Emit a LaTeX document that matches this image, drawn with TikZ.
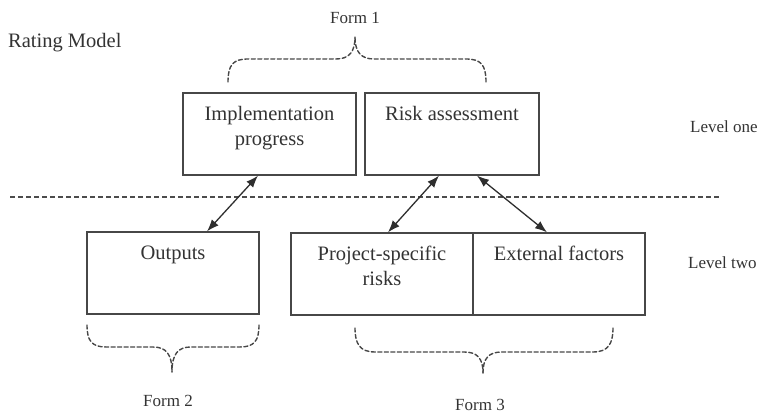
\documentclass[tikz,border=0pt]{standalone}
\usepackage{fontspec}
\setmainfont{Liberation Serif}
\usetikzlibrary{arrows.meta,calc}
\begin{document}
\begin{tikzpicture}[x=1pt,y=1pt,
  box/.style={draw=black!72,line width=1.3pt,minimum width=#1,minimum height=82pt,inner sep=0pt},
  boxtext/.style={text=black!80,font=\fontsize{20.5}{25}\selectfont,align=center,inner sep=0pt,anchor=north},
  lab/.style={text=black!80,font=\fontsize{17}{20}\selectfont,inner sep=0pt},
  dsh/.style={draw=black!70,line width=1.3pt,dash pattern=on 5pt off 3pt},
  bidir/.style={draw=black!82,line width=1.3pt,{Latex[length=12pt,width=9pt]}-{Latex[length=12pt,width=9pt]}},
  brc/.style={draw=black!72,line width=1.4pt,dash pattern=on 4pt off 2.5pt,line cap=round}]
\useasboundingbox (0,0) rectangle (761,414);
% boxes
\node[box=173pt] (impl) at (269.5,280) {};
\node[box=174pt] (risk) at (452,280) {};
\node[box=172pt] (outp) at (173,141) {};
\node[box=182pt] (proj) at (382,140) {};
\node[box=172pt] (ext) at (559,140) {};
% box texts
\node[boxtext] (impltxt) at ([yshift=-14pt]impl.north) {Implementation\\progress};
\node[boxtext] (risktxt) at ([yshift=-14pt]risk.north) {Risk assessment};
\node[boxtext] (outptxt) at ([yshift=-14pt]outp.north) {Outputs};
\node[boxtext] (projtxt) at ([yshift=-14pt]proj.north) {Project-specific\\risks};
\node[boxtext] (exttxt) at ([yshift=-14pt]ext.north) {External factors};
% level separator
\coordinate (sepL) at (10,217);
\coordinate (sepR) at (720,217);
\draw[dsh] (sepL) -- (sepR);
% arrows
\draw[bidir] ([xshift=-11.5pt]impl.south) -- ([xshift=34pt]outp.north);
\draw[bidir] ([xshift=-13pt]risk.south) -- ([xshift=6pt]proj.north);
\draw[bidir] ([xshift=25pt]risk.south) -- ([xshift=-12pt]ext.north);
% labels
\node[lab,anchor=west,font=\fontsize{20.5}{24}\selectfont] (rating) at (8,371) {Rating Model};
\node[lab] (form1) at (355,396) {Form 1};
\node[lab,anchor=west] (lvl1) at (690,287) {Level one};
\node[lab,anchor=west] (lvl2) at (688,151) {Level two};
\node[lab] (form2) at (168,13) {Form 2};
\node[lab] (form3) at (480,9) {Form 3};
% top brace
\draw[brc] (228,332) .. controls (228,349) and (233,355) .. (248,355) -- (336,355)
  .. controls (349,355) and (355,362) .. (355,377);
\draw[brc] (486,332) .. controls (486,349) and (481,355) .. (466,355) -- (374,355)
  .. controls (361,355) and (355,362) .. (355,377);
% bottom brace (Form 2)
\draw[brc] (87,89) .. controls (87,73) and (92,67) .. (106,67) -- (153,67)
  .. controls (166,67) and (172,60) .. (172,42);
\draw[brc] (259,89) .. controls (259,73) and (254,67) .. (240,67) -- (191,67)
  .. controls (178,67) and (172,60) .. (172,42);
% bottom brace (Form 3)
\draw[brc] (355,86) .. controls (355,70) and (360,62) .. (375,62) -- (464,62)
  .. controls (477,62) and (483,56) .. (483,41);
\draw[brc] (613,86) .. controls (613,70) and (608,62) .. (593,62) -- (502,62)
  .. controls (489,62) and (483,56) .. (483,41);
\end{tikzpicture}
\end{document}
